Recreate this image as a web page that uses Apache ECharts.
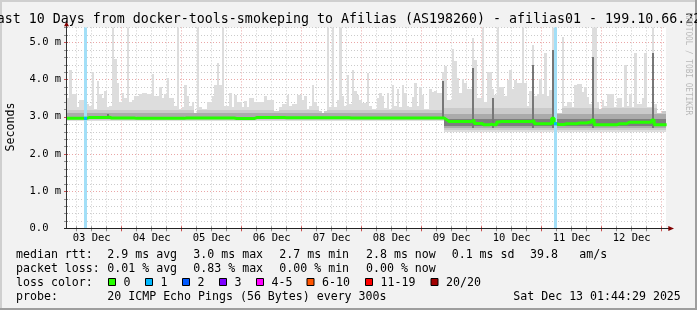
<!DOCTYPE html>
<html><head><meta charset="utf-8">
<script src="https://cdn.jsdelivr.net/npm/echarts@6/dist/echarts.min.js"></script>
<style>html,body{margin:0;padding:0;background:#f2f2f2}#c{width:697px;height:310px}</style>
</head><body><div id="c"></div>
<script>
// ---------------- data ----------------
const titleText = 'Last 10 Days from docker-tools-smokeping to Afilias (AS198260) - afilias01 - 199.10.66.22';
const startHour = 1.7414;   // Dec 3 01:44:29 (hours since Dec 3 00:00)
const endHour = 241.7414;   // Dec 13 01:44:29
const firstBucketHour = 2;  // hourly buckets, first full one starts Dec 3 02:00

// max ping per hour (ms)
const maxRtt = [
3.50,4.25,3.60,3.60,3.25,3.45,3.45,3.40,3.35,3.30,4.20,3.20,3.95,3.60,3.50,3.70,3.25,3.30,5.50,4.55,
3.90,3.40,3.65,3.50,5.50,3.40,3.45,3.55,3.55,3.60,3.65,3.65,3.60,3.60,4.15,3.55,3.55,3.80,3.50,3.60,
4.05,3.50,3.50,3.30,5.50,3.22,3.25,3.85,3.55,3.30,3.40,3.10,5.50,3.25,3.22,3.22,3.40,3.40,3.55,3.85,
4.43,3.85,5.50,3.30,3.30,3.63,3.25,3.57,3.40,3.40,3.25,3.42,3.25,3.50,3.50,3.40,3.40,3.40,3.40,3.55,
3.45,3.45,3.45,3.15,3.15,3.25,3.35,3.35,3.58,3.30,3.35,3.35,3.57,3.57,3.45,3.55,3.22,3.30,3.85,3.40,
3.30,3.15,3.10,3.15,5.50,3.25,5.50,3.27,3.45,5.50,3.55,3.30,4.12,3.35,4.25,3.70,3.58,3.45,3.38,3.38,
4.17,3.30,3.22,3.22,3.50,3.63,3.55,3.24,3.63,3.22,3.85,3.30,3.75,3.26,3.85,3.63,3.30,3.25,3.53,3.90,
3.30,3.80,3.58,3.22,3.22,3.75,3.67,3.70,3.63,3.63,4.20,4.35,3.45,3.45,4.82,4.50,4.03,3.63,4.00,3.90,
3.75,3.75,5.12,4.52,3.50,3.50,5.50,3.40,4.20,4.20,3.75,3.58,5.50,3.80,3.80,3.55,3.98,4.25,3.75,3.98,
3.90,3.90,5.50,3.90,3.30,3.70,4.93,3.55,3.60,4.00,3.60,4.72,3.55,3.72,5.50,3.20,3.10,3.10,5.15,3.30,
3.40,3.40,3.27,3.85,3.87,3.87,3.67,3.80,3.53,3.35,5.50,5.50,3.40,3.22,3.45,3.30,3.60,3.60,3.60,3.25,
3.50,3.50,3.25,4.40,3.30,3.60,3.25,4.70,3.35,3.35,3.50,4.70,3.25,3.25,5.40,3.35,3.10,3.10,3.15,3.15];

// median rtt per hour (ms)
const medianRtt = [
2.955,2.955,2.955,2.955,2.955,2.955,2.955,2.955,2.975,2.975,2.975,2.975,2.975,2.975,2.975,2.975,2.99,2.965,2.965,2.965,
2.965,2.965,2.965,2.965,2.965,2.965,2.965,2.955,2.955,2.955,2.955,2.955,2.955,2.955,2.955,2.955,2.955,2.955,2.955,2.955,
2.955,2.955,2.955,2.955,2.955,2.955,2.955,2.965,2.965,2.965,2.965,2.965,2.965,2.965,2.965,2.965,2.965,2.965,2.965,2.965,
2.965,2.965,2.965,2.965,2.965,2.965,2.965,2.95,2.95,2.95,2.95,2.95,2.95,2.95,2.95,2.975,2.975,2.975,2.975,2.975,
2.975,2.975,2.975,2.975,2.975,2.975,2.975,2.97,2.97,2.97,2.97,2.97,2.97,2.97,2.97,2.97,2.97,2.97,2.97,2.97,
2.97,2.97,2.97,2.97,2.97,2.97,2.97,2.97,2.97,2.97,2.97,2.97,2.97,2.965,2.965,2.965,2.965,2.965,2.965,2.965,
2.965,2.965,2.965,2.965,2.965,2.965,2.965,2.965,2.965,2.965,2.965,2.965,2.965,2.965,2.965,2.965,2.965,2.965,2.965,2.965,
2.965,2.965,2.965,2.965,2.965,2.965,2.965,2.965,2.965,2.965,2.965,2.92,2.87,2.87,2.87,2.87,2.87,2.87,2.87,2.87,
2.87,2.87,2.91,2.82,2.82,2.82,2.78,2.78,2.78,2.80,2.78,2.78,2.86,2.87,2.87,2.87,2.87,2.87,2.87,2.87,
2.87,2.87,2.87,2.87,2.87,2.87,2.89,2.81,2.81,2.81,2.81,2.81,2.81,2.81,2.96,2.81,2.79,2.79,2.79,2.81,
2.81,2.81,2.81,2.81,2.83,2.83,2.83,2.83,2.85,2.85,2.91,2.78,2.78,2.78,2.78,2.78,2.78,2.78,2.78,2.78,
2.81,2.81,2.81,2.81,2.85,2.85,2.85,2.85,2.85,2.85,2.85,2.85,2.85,2.85,2.91,2.78,2.78,2.78,2.78,2.78];

// smoke band edges per period (period i starts at hour smokeSegStart[i])
const smokeSegStart = [0, 153];
const smokeMin = [2.885, 2.60];
const smokeLo2 = [2.905, 2.65];
const smokeLo3 = [2.925, 2.69];
const smokeLo4 = [2.945, 2.75];
const smokeHi4 = [3.00, 2.93];
const smokeHi3 = [3.09, 3.07];
const smokeHi2 = [3.19, 3.24];

// dark smoke streaks (hour bucket, top in ms)
const streakHours = [18,152,164,172,188,196,212,236];
const streakTops  = [3.08,3.95,4.30,3.50,4.40,4.80,4.60,4.70];

// packet loss events (hour bucket, lost pings)
const lossHours = [9,197];
const lossCounts = [1,1];

// axes
const dayLabelHours = [12,36,60,84,108,132,156,180,204,228];
const dayLabels = ['03 Dec','04 Dec','05 Dec','06 Dec','07 Dec','08 Dec','09 Dec','10 Dec','11 Dec','12 Dec'];
const midnightHours = [24,48,72,96,120,144,168,192,216,240];
const quarterHours = [6,12,18,30,36,42,54,60,66,78,84,90,102,108,114,126,132,138,150,156,162,174,180,186,198,204,210,222,228,234];
const yMajorTicks = [0,1,2,3,4,5];
const yMinorTicks = [0.2,0.4,0.6,0.8,1.2,1.4,1.6,1.8,2.2,2.4,2.6,2.8,3.2,3.4,3.6,3.8,4.2,4.4,4.6,4.8,5.2,5.4];

// legend
const legendRtt = [[16,'median rtt:'],[107.3,'2.9 ms avg'],[193.3,'3.0 ms max'],[279.3,'2.7 ms min'],[366,'2.8 ms now'],[451.7,'0.1 ms sd'],[530,'39.8'],[579.3,'am/s']];
const legendLoss = [[16,'packet loss:'],[107.3,'0.01 % avg'],[193.3,'0.83 % max'],[279.3,'0.00 % min'],[366,'0.00 % now']];
const lossColorLabels = ['0','1','2','3','4-5','6-10','11-19','20/20'];
const lossColors = ['#26ff00','#00b8ff','#0059ff','#7e00ff','#ff00ff','#ff5500','#ff0000','#a10000'];
const lossBoxX = [108.5,145.5,182.5,219.5,256.5,307,365.5,431];
const probeRow = [[16,'probe:'],[107.3,'20 ICMP Echo Pings (56 Bytes) every 300s'],[513.3,'Sat Dec 13 01:44:29 2025']];

// ---------------- chart ----------------
const MONO = '"DejaVu Sans Mono", monospace';
const chart = echarts.init(document.getElementById('c'), null, {renderer:'canvas', width:697, height:310});

function segOf(h){ let s=0; for (let i=0;i<smokeSegStart.length;i++){ if (h>=smokeSegStart[i]) s=i; } return s; }
function csRect(cs){ return {x:cs.x, y:cs.y, width:cs.width, height:cs.height}; }
function band(api, cs, x0, x1, lo, hi, color){
  if (!(hi > lo)) return null;
  const yHi = Math.round(api.coord([startHour, hi])[1]);
  const yLo = Math.round(api.coord([startHour, lo])[1]);
  const s = echarts.graphic.clipRectByRect({x:x0, y:yHi, width:x1-x0, height:Math.max(1,yLo-yHi)}, csRect(cs));
  return s ? {type:'rect', shape:s, style:{fill:color}} : null;
}
function bx(api, h){ return [Math.round(api.coord([h,0])[0]), Math.round(api.coord([h+1,0])[0])]; }

const smokeRows = maxRtt.map((mx,k)=>{
  const n = firstBucketHour + k, j = segOf(n);
  return [n, smokeMin[j], smokeLo2[j], smokeLo3[j], smokeLo4[j], smokeHi4[j], smokeHi3[j], smokeHi2[j], mx];
});
const medianData = medianRtt.map((v,k)=>[firstBucketHour+k, v]);
medianData.push([firstBucketHour+medianRtt.length, medianRtt[medianRtt.length-1]]);

const vGridData = quarterHours.map(h=>[h,0]).concat(midnightHours.map(h=>[h,1]));
const hGridData = yMinorTicks.map(v=>[v,0]).concat(yMajorTicks.map(v=>[v,1]));

const graphics = [];
function txt(x, y, s, size, extra){
  return Object.assign({type:'text', x:x, y:y, z:100, silent:true,
    style:{text:s, x:0, y:0, font: size+'px '+MONO, fill:'#000', align:'left', verticalAlign:'middle', textAlign:'left', textVerticalAlign:'middle'}}, extra||{});
}
// frame
graphics.push({type:'rect', z:100, shape:{x:0,y:0,width:697,height:2}, style:{fill:'#cfcfcf'}});
graphics.push({type:'rect', z:100, shape:{x:0,y:0,width:2,height:310}, style:{fill:'#cfcfcf'}});
graphics.push({type:'rect', z:100, shape:{x:695,y:0,width:2,height:310}, style:{fill:'#9e9e9e'}});
graphics.push({type:'rect', z:100, shape:{x:0,y:308,width:697,height:2}, style:{fill:'#9e9e9e'}});
graphics.push(txt(-11.3, 20, titleText, 13.3));
graphics.push(txt(10.5, 127, 'Seconds', 11.6, {rotation:Math.PI/2, style:{text:'Seconds', x:0, y:0, font:'11.6px '+MONO, fill:'#000', align:'center', verticalAlign:'middle', textAlign:'center', textVerticalAlign:'middle'}}));
graphics.push({type:'text', x:688, y:64, z:100, rotation:-Math.PI/2, scaleX:0.86, silent:true,
  style:{text:'RRDTOOL / TOBI OETIKER', x:0, y:0, font:'9px '+MONO, fill:'#b8b8b8', align:'center', verticalAlign:'middle', textAlign:'center', textVerticalAlign:'middle'}});
const rowY = [254.8, 268.8, 282.8, 296.5];
legendRtt.forEach(p=>graphics.push(txt(p[0], rowY[0], p[1], 11.6)));
legendLoss.forEach(p=>graphics.push(txt(p[0], rowY[1], p[1], 11.6)));
graphics.push(txt(16, rowY[2], 'loss color:', 11.6));
lossColorLabels.forEach((l,i)=>{
  graphics.push({type:'rect', z:100, shape:{x:lossBoxX[i], y:278.5, width:7, height:7}, style:{fill:lossColors[i], stroke:'#000', lineWidth:1}});
  graphics.push(txt(lossBoxX[i]+15, rowY[2], l, 11.6));
});
probeRow.forEach(p=>graphics.push(txt(p[0], rowY[3], p[1], 11.6)));

const option = {
  animation:false,
  backgroundColor:'#f2f2f2',
  grid:{left:66, top:27.4, width:600, height:200.9, show:true, backgroundColor:'#ffffff', borderWidth:0},
  xAxis:{type:'value', min:startHour, max:endHour,
    axisLine:{show:false}, axisTick:{show:false}, splitLine:{show:false},
    axisLabel:{customValues:dayLabelHours, formatter:(v)=>{const i=dayLabelHours.indexOf(v); return i>=0?dayLabels[i]:'';},
      margin:9.5, verticalAlign:'middle', fontFamily:MONO, fontSize:10.5, color:'#000', showMinLabel:true, showMaxLabel:true}},
  yAxis:{type:'value', min:0, max:5.4, interval:1,
    axisLine:{show:false}, axisTick:{show:false}, splitLine:{show:false},
    axisLabel:{formatter:(v)=> Math.abs(v-Math.round(v))>1e-6 ? '' : (v===0?'0.0':v.toFixed(1)+' m'),
      align:'left', margin:36.5, fontFamily:MONO, fontSize:10.5, color:'#000'}},
  graphic:{elements:graphics},
  series:[
    { // vertical grid
      type:'custom', z:1, silent:true, data:vGridData, encode:{x:0},
      renderItem:(params, api)=>{
        const cs=params.coordSys; const major=api.value(1)===1;
        const x=Math.floor(api.coord([api.value(0),0])[0])+0.5; const b=cs.y+cs.height;
        return {type:'group', children:[
          {type:'line', shape:{x1:x,y1:cs.y,x2:x,y2:b}, style:{stroke: major?'#eaa6a6':'#cbcbcb', lineWidth:1, lineDash:[1,2]}},
          {type:'line', shape:{x1:x,y1:b-2,x2:x,y2:b+3}, style:{stroke: major?'#c85050':'#8f8f8f', lineWidth:1}}
        ]};
      }
    },
    { // horizontal grid
      type:'custom', z:1, silent:true, data:hGridData, encode:{y:0},
      renderItem:(params, api)=>{
        const cs=params.coordSys; const major=api.value(1)===1;
        const y=Math.round(api.coord([startHour, api.value(0)])[1])+0.5;
        const ch=[{type:'line', shape:{x1:cs.x-2,y1:y,x2:cs.x+2,y2:y}, style:{stroke: major?'#c85050':'#8f8f8f', lineWidth:1}}];
        if (api.value(0)>0) ch.push({type:'line', shape:{x1:cs.x,y1:y,x2:cs.x+cs.width,y2:y}, style:{stroke: major?'#eaa6a6':'#cbcbcb', lineWidth:1, lineDash:[1,2]}});
        return {type:'group', children:ch};
      }
    },
    { // smoke
      type:'custom', z:2, silent:true, data:smokeRows, encode:{x:0, y:[1,8]},
      renderItem:(params, api)=>{
        const cs=params.coordSys; const n=api.value(0); const [x0,x1]=bx(api,n); const mx=api.value(8);
        const ch=[band(api,cs,x0,x1,api.value(1),mx,'#dddddd'),
                  band(api,cs,x0,x1,api.value(2),Math.min(api.value(7),mx),'#cacaca'),
                  band(api,cs,x0,x1,api.value(3),Math.min(api.value(6),mx),'#ababab'),
                  band(api,cs,x0,x1,api.value(4),Math.min(api.value(5),mx),'#7e7e7e')].filter(Boolean);
        return {type:'group', children:ch};
      }
    },
    { // dark streaks
      type:'custom', z:3, silent:true, data:streakHours.map((h,i)=>[h, streakTops[i]]), encode:{x:0,y:1},
      renderItem:(params, api)=>{
        const cs=params.coordSys; const h=api.value(0); const [x0,x1]=bx(api,h);
        const r=band(api,cs,x0,x1,smokeLo3[segOf(h)],api.value(1),'#777777');
        return r || {type:'group', children:[]};
      }
    },
    { // loss background bars
      type:'custom', z:4, silent:true, data:lossHours.map((h,i)=>[h, lossCounts[i]]), encode:{x:0},
      renderItem:(params, api)=>{
        const cs=params.coordSys; const [x0,x1]=bx(api,api.value(0));
        return {type:'rect', shape:{x:x0, y:cs.y, width:x1-x0, height:cs.height}, style:{fill:'#a3dff7'}};
      }
    },
    { // median
      type:'line', z:5, silent:true, data:medianData, step:'end', symbol:'none', showSymbol:false,
      lineStyle:{color:'#26ff00', width:3}
    },
    { // median coloured by loss
      type:'custom', z:6, silent:true, data:lossHours.map(h=>[h, medianRtt[h-firstBucketHour]]), encode:{x:0,y:1},
      renderItem:(params, api)=>{
        const [x0,x1]=bx(api,api.value(0)); const y=api.coord([startHour, api.value(1)])[1];
        return {type:'rect', shape:{x:x0, y:y-1.5, width:x1-x0, height:3}, style:{fill:'#00b8ff'}};
      }
    },
    { // axis lines + arrows
      type:'custom', z:7, silent:true, data:[[120, 1]], encode:{x:0,y:1},
      renderItem:(params, api)=>{
        const cs=params.coordSys; const ax=cs.x+0.5; const by=Math.round(cs.y+cs.height)+0.5; const r=cs.x+cs.width;
        return {type:'group', children:[
          {type:'line', shape:{x1:ax,y1:by,x2:ax,y2:cs.y-3}, style:{stroke:'#333', lineWidth:1}},
          {type:'line', shape:{x1:cs.x-2,y1:by,x2:r+4,y2:by}, style:{stroke:'#222', lineWidth:1}},
          {type:'polygon', shape:{points:[[ax-2.5,cs.y-1.2],[ax+2.5,cs.y-1.2],[ax,cs.y-5.8]]}, style:{fill:'#800000'}},
          {type:'polygon', shape:{points:[[r+2.3,by-2.6],[r+2.3,by+2.6],[r+8,by]]}, style:{fill:'#800000'}}
        ]};
      }
    }
  ]
};
chart.setOption(option);
</script>
</body></html>
